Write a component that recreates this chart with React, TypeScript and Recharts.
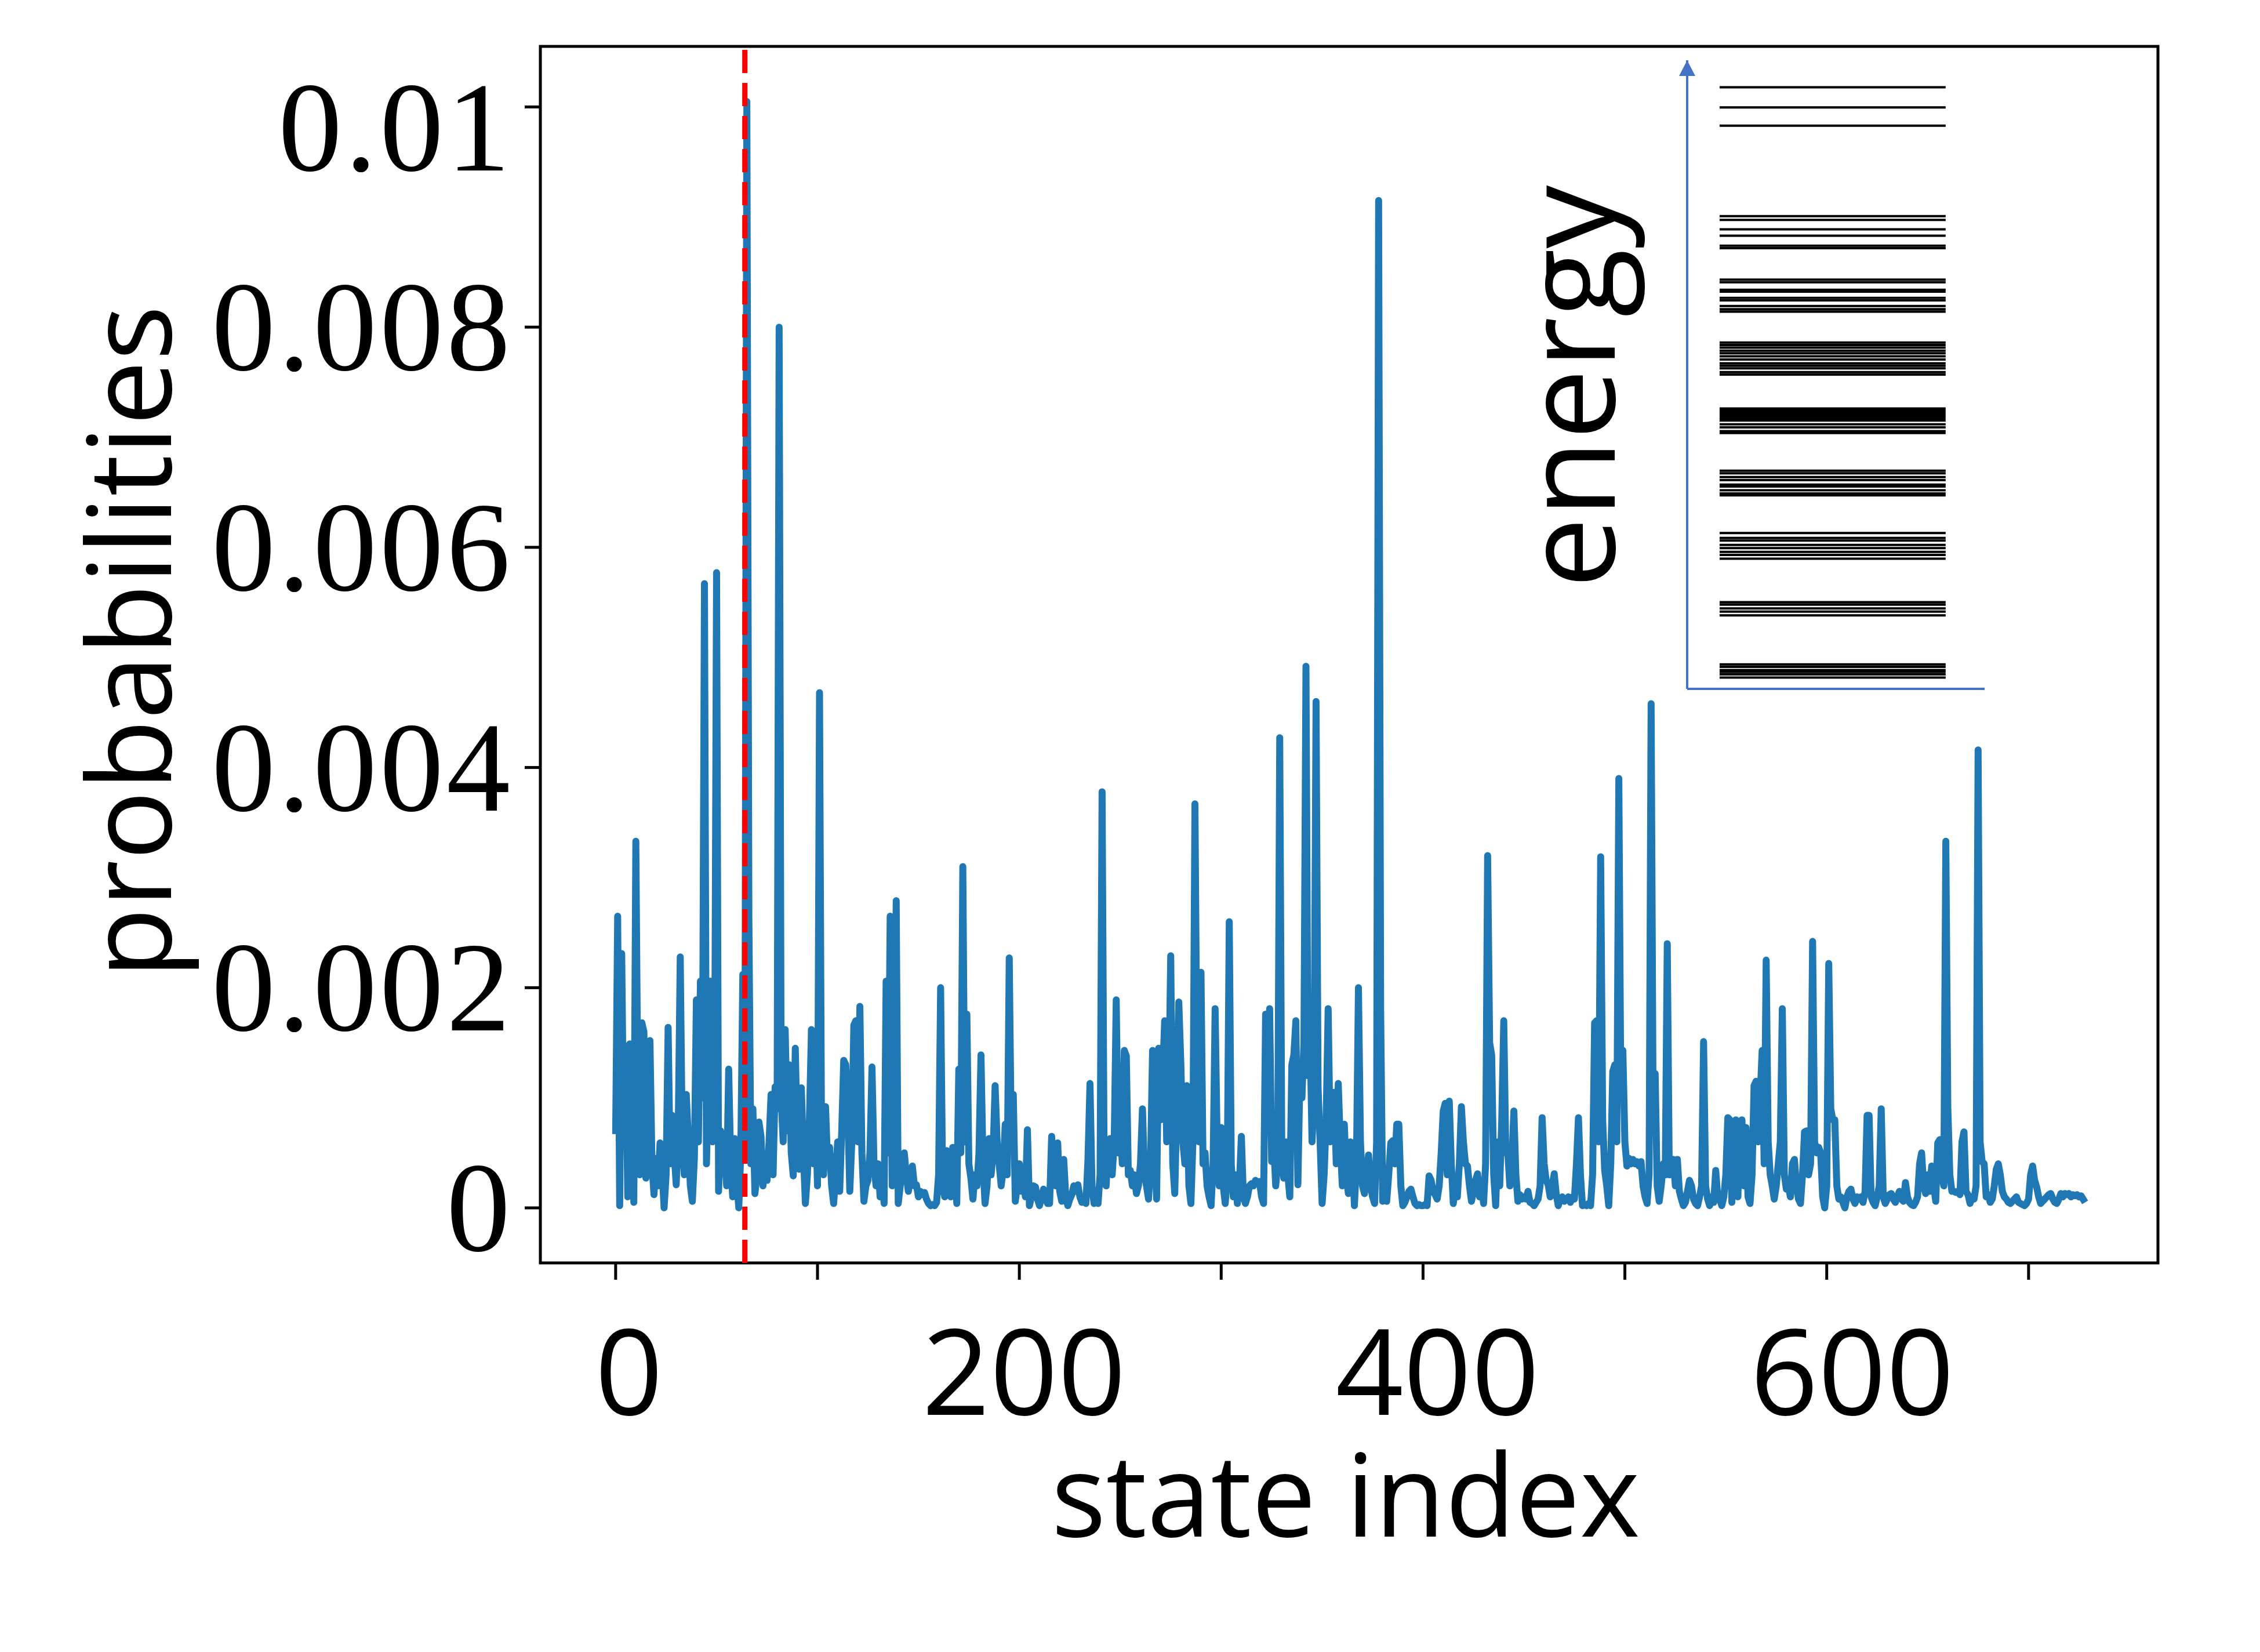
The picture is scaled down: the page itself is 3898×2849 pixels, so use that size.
import React from 'react';
import {
  LineChart,
  Line,
  XAxis,
  YAxis,
  Label,
  ReferenceLine,
  ReferenceArea,
  ReferenceDot,
} from 'recharts';

// probabilities per state index, in units of 1e-5
const prob000 = [
  67, 265, 2, 231, 60, 147, 10, 149, 70, 5,
  333, 100, 30, 168, 160, 27, 60, 152, 40, 12,
  45, 20, 59, 35, 0, 30, 164, 40, 84, 50,
  21, 70, 228, 60, 30, 103, 63, 20, 6, 45,
  189, 60, 206, 100, 567, 40, 120, 206, 60, 90,
  577, 15, 70, 34, 50, 20, 126, 40, 10, 63,
  25, 0, 50, 212, 60, 1005, 265, 40, 90, 13,
  30, 78, 65, 20, 45, 25, 60, 103, 30, 110,
  90, 800, 100, 60, 162, 70, 130, 50, 29, 145,
  60, 35, 109, 50, 4, 30, 80, 162, 40, 90,
];
const prob100 = [
  20, 468, 60, 30, 92, 40, 55, 20, 4, 30,
  60, 15, 70, 134, 130, 90, 15, 60, 166, 170,
  60, 183, 50, 6, 20, 25, 50, 128, 40, 20,
  40, 10, 30, 4, 206, 50, 265, 20, 60, 279,
  4, 20, 35, 50, 30, 15, 25, 38, 20, 21,
  10, 15, 12, 14, 8, 4, 2, 3, 2, 5,
  30, 200, 20, 10, 52, 20, 10, 55, 40, 4,
  126, 50, 310, 60, 176, 40, 27, 8, 30, 20,
  50, 139, 40, 4, 20, 63, 30, 50, 111, 60,
  40, 20, 35, 76, 30, 227, 60, 103, 6, 20,
];
const prob200 = [
  40, 15, 25, 10, 71, 2, 10, 20, 19, 8,
  2, 10, 17, 8, 4, 4, 65, 30, 20, 59,
  15, 6, 44, 10, 2, 8, 12, 20, 15, 21,
  10, 5, 8, 4, 44, 113, 20, 4, 10, 4,
  30, 378, 40, 20, 57, 63, 30, 60, 189, 50,
  80, 40, 143, 138, 30, 34, 20, 30, 13, 20,
  40, 90, 30, 20, 8, 40, 143, 60, 8, 145,
  80, 120, 170, 60, 100, 229, 40, 13, 90, 187,
  132, 60, 40, 111, 20, 4, 60, 367, 120, 60,
  214, 40, 50, 20, 10, 2, 40, 181, 60, 20,
];
const prob300 = [
  73, 20, 4, 30, 260, 40, 10, 30, 4, 20,
  65, 10, 4, 10, 20, 22, 20, 25, 22, 24,
  10, 4, 176, 90, 181, 42, 60, 20, 40, 427,
  60, 27, 60, 30, 10, 130, 139, 170, 21, 120,
  100, 150, 492, 120, 162, 60, 100, 460, 110, 60,
  4, 30, 80, 181, 60, 100, 105, 40, 113, 60,
  20, 76, 30, 13, 60, 46, 2, 40, 200, 60,
  20, 13, 30, 48, 20, 10, 4, 60, 915, 180,
  6, 20, 6, 30, 59, 61, 40, 76, 76, 20,
  2, 5, 10, 15, 17, 10, 4, 2, 3, 2,
];
const prob400 = [
  2, 3, 2, 29, 25, 15, 12, 8, 20, 50,
  88, 95, 30, 97, 40, 4, 20, 10, 40, 92,
  60, 40, 38, 20, 6, 15, 25, 31, 10, 20,
  4, 40, 320, 150, 139, 30, 2, 60, 20, 80,
  170, 50, 50, 20, 40, 88, 30, 6, 12, 8,
  10, 8, 15, 5, 4, 2, 5, 8, 20, 82,
  40, 25, 21, 10, 20, 31, 12, 2, 8, 10,
  6, 8, 10, 5, 10, 8, 40, 82, 30, 2,
  3, 2, 4, 2, 30, 168, 170, 60, 319, 80,
  34, 20, 2, 40, 124, 130, 60, 390, 100, 143,
];
const prob500 = [
  60, 38, 45, 40, 44, 40, 42, 38, 42, 20,
  10, 4, 30, 458, 80, 122, 20, 6, 20, 40,
  30, 240, 30, 44, 44, 20, 44, 15, 8, 2,
  5, 15, 25, 20, 8, 4, 2, 10, 20, 151,
  20, 8, 2, 10, 5, 34, 10, 8, 2, 10,
  30, 82, 80, 5, 78, 80, 10, 78, 80, 20,
  73, 10, 4, 30, 111, 115, 60, 100, 143, 40,
  225, 60, 30, 20, 8, 20, 40, 60, 181, 30,
  17, 20, 10, 40, 44, 20, 8, 4, 30, 69,
  70, 30, 40, 242, 60, 50, 55, 50, 10, 0,
];
const prob600 = [
  20, 222, 90, 80, 80, 20, 8, 10, 5, 0,
  10, 15, 17, 8, 4, 10, 8, 10, 5, 15,
  84, 84, 10, 5, 2, 10, 20, 90, 10, 4,
  8, 12, 13, 8, 5, 10, 15, 8, 6, 23,
  10, 5, 3, 2, 5, 10, 40, 50, 20, 13,
  30, 15, 38, 20, 6, 59, 62, 30, 20, 333,
  90, 30, 15, 15, 14, 15, 12, 60, 69, 15,
  12, 4, 10, 8, 20, 416, 60, 42, 40, 10,
  12, 5, 8, 20, 35, 40, 30, 15, 10, 8,
  5, 4, 6, 8, 10, 5, 4, 3, 2, 4,
];
const prob700 = [
  8, 30, 38, 25, 19, 10, 4, 6, 8, 10,
  12, 13, 8, 5, 4, 8, 13, 10, 13, 12,
  13, 10, 12, 11, 12, 10, 11, 8, 5,
];

const markedState = 64;

const xTicks = [0, 100, 200, 300, 400, 500, 600, 700];
const xTickLabels: Record<number, string> = { 0: '0', 200: '200', 400: '400', 600: '600' };
const yTicks = [0, 0.002, 0.004, 0.006, 0.008, 0.01];
const yTickLabels = ['0', '0.002', '0.004', '0.006', '0.008', '0.01'];

// energy levels of the inset (arbitrary units, 0 = inset axis)
const energyLevels = [
  95.7, 92.5, 89.6,
  75.2, 74.6, 73.1, 72.1, 70.5, 70.1,
  65.1, 64.7, 63.5, 63.2, 62.2, 61.8, 60.9, 60.4, 60.0,
  55.1, 54.7, 54.3, 53.8, 53.4, 52.9, 52.4, 51.8, 51.4, 51.0, 50.4, 50.0,
  44.6, 44.4, 44.1, 43.8, 43.5, 43.3, 43.0, 42.7, 42.1, 41.6, 41.0, 40.7,
  34.7, 34.3, 33.7, 33.2, 32.5, 32.2, 31.6, 31.1, 30.8,
  24.8, 24.0, 23.6, 22.9, 22.4, 21.8, 21.3, 20.7,
  13.8, 13.4, 12.8, 12.3, 11.7,
  3.9, 3.5, 3.0, 2.7, 2.3, 1.8,
];
const groundLevel = -0.4;

const allProbs = [
  ...prob000, ...prob100, ...prob200, ...prob300,
  ...prob400, ...prob500, ...prob600, ...prob700,
];
const data = allProbs.map((v, i) => ({ index: i, p: v / 1e5 }));

// each level is a short horizontal stroke; a null breaks the line between levels
const LEVEL_START = 0.109;
const LEVEL_END = 0.869;
const levelData = energyLevels.flatMap((e) => [
  { x: LEVEL_START, e },
  { x: LEVEL_END, e },
  { x: LEVEL_END, e: null as number | null },
]);
const groundData = [
  { x: LEVEL_START, g: groundLevel },
  { x: 0.85, g: groundLevel },
];

const X_DOMAIN: [number, number] = [-37.3, 764.1];
const Y_DOMAIN: [number, number] = [-0.0005, 0.01055];

const SANS = '"Open Sans", "DejaVu Sans", sans-serif';
const SERIF = '"Liberation Serif", "DejaVu Serif", serif';

// label shifts as laid out in the original figure
const xLabelShift: Record<number, number> = { 0: 23, 200: 8, 400: 25, 600: 44 };

const renderXTick = (props: any) => {
  const { x, payload } = props;
  const text = xTickLabels[payload.value];
  if (!text) return <g />;
  return (
    <text
      x={x + (xLabelShift[payload.value] || 0)}
      y={2440}
      textAnchor="middle"
      fontFamily={SANS}
      fontSize={205}
      fill="#000"
    >
      {text}
    </text>
  );
};

const renderYTick = (props: any) => {
  const { y, payload } = props;
  const idx = yTicks.indexOf(payload.value);
  const shift = payload.value === 0.01 ? 36 : 0;
  return (
    <text
      x={885}
      y={y + 74 + shift}
      textAnchor="end"
      fontFamily={SERIF}
      fontSize={220}
      letterSpacing={5}
      fill="#000"
    >
      {yTickLabels[idx]}
    </text>
  );
};

const renderXTitle = () => (
  <text x={2321} y={2650} textAnchor="middle" fontFamily={SANS} fontSize={198} fill="#000">
    state index
  </text>
);

const renderYTitle = () => (
  <text
    x={295}
    y={1107}
    transform="rotate(-90, 295, 1107)"
    textAnchor="middle"
    fontFamily={SANS}
    fontSize={200}
    fill="#000"
  >
    probabilities
  </text>
);

// inset svg starts at x=2200, y=60 on the page
const renderEnergyTitle = () => (
  <text
    x={585}
    y={607}
    transform="rotate(-90, 585, 607)"
    textAnchor="middle"
    fontFamily={SANS}
    fontSize={218}
    fill="#000"
  >
    energy
  </text>
);

const ArrowHead = (props: any) => {
  const { cx, cy } = props;
  return (
    <polygon
      points={`${cx},${cy} ${cx - 14},${cy + 27} ${cx + 14},${cy + 27}`}
      fill="#4472C4"
    />
  );
};

const EnergyInset: React.FC = () => (
  <LineChart
    width={1250}
    height={1160}
    margin={{ top: 44, right: 27, bottom: 31, left: 709 }}
    data={levelData}
  >
    <XAxis
      dataKey="x"
      type="number"
      domain={[0, 1]}
      allowDataOverflow
      height={1}
      tick={false}
      tickLine={false}
      axisLine={{ stroke: '#4472C4', strokeWidth: 4 }}
    />
    <YAxis
      type="number"
      domain={[0, 100]}
      allowDataOverflow
      width={1}
      tick={false}
      tickLine={false}
      axisLine={{ stroke: '#4472C4', strokeWidth: 4 }}
    >
      <Label content={renderEnergyTitle} />
    </YAxis>
    <Line
      data={groundData}
      dataKey="g"
      stroke="#333"
      strokeWidth={3}
      strokeDasharray="10 9"
      dot={false}
      isAnimationActive={false}
    />
    <Line
      dataKey="e"
      stroke="#000"
      strokeWidth={4}
      dot={false}
      connectNulls={false}
      isAnimationActive={false}
    />
    <ReferenceDot x={0} y={100} shape={ArrowHead} ifOverflow="visible" />
  </LineChart>
);

const App: React.FC = () => {
  return (
    <div style={{ position: 'absolute', left: 0, top: 0, width: 3898, height: 2849, background: '#fff' }}>
      <div style={{ position: 'absolute', left: 0, top: 0 }}>
        <LineChart
          width={3898}
          height={2849}
          data={data}
          margin={{ top: 80, right: 176, bottom: 0, left: 0 }}
        >
          <XAxis
            dataKey="index"
            type="number"
            domain={X_DOMAIN}
            allowDataOverflow
            ticks={xTicks}
            interval={0}
            tick={renderXTick}
            tickLine={{ stroke: '#000', strokeWidth: 5 }}
            tickSize={29}
            axisLine={false}
            height={671}
          >
            <Label content={renderXTitle} />
          </XAxis>
          <YAxis
            type="number"
            domain={Y_DOMAIN}
            allowDataOverflow
            ticks={yTicks}
            interval={0}
            tick={renderYTick}
            tickLine={{ stroke: '#000', strokeWidth: 5 }}
            tickSize={27}
            axisLine={false}
            width={932}
          >
            <Label content={renderYTitle} />
          </YAxis>
          <ReferenceArea
            x1={X_DOMAIN[0]}
            x2={X_DOMAIN[1]}
            y1={Y_DOMAIN[0]}
            y2={Y_DOMAIN[1]}
            fill="none"
            fillOpacity={0}
            stroke="#000"
            strokeWidth={5}
          />
          <Line
            dataKey="p"
            type="linear"
            stroke="#1f77b4"
            strokeWidth={12}
            strokeLinejoin="round"
            dot={false}
            isAnimationActive={false}
          />
          <ReferenceLine
            x={markedState}
            stroke="#ff0000"
            strokeWidth={9}
            strokeDasharray="40 17"
          />
        </LineChart>
      </div>
      <div style={{ position: 'absolute', left: 2200, top: 60 }}>
        <EnergyInset />
      </div>
    </div>
  );
};

export default App;
